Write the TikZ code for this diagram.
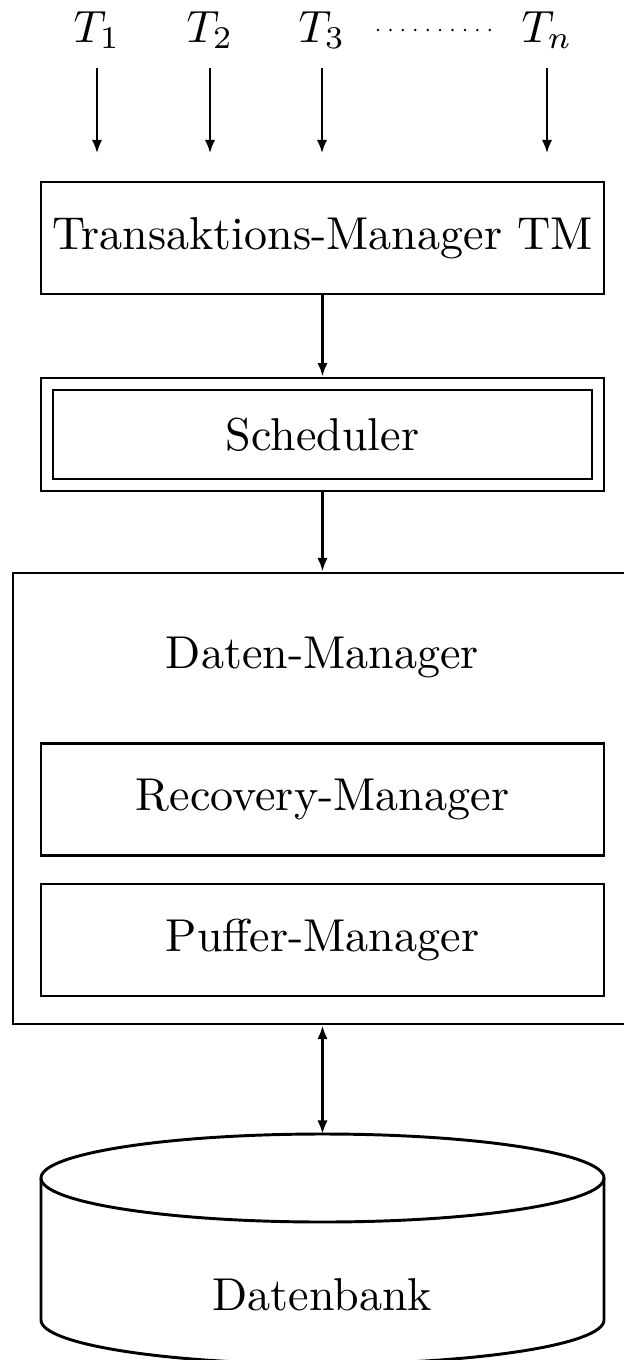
\documentclass[tikz,border=0pt]{standalone}
\usetikzlibrary{arrows.meta}
\begin{document}
\begin{tikzpicture}[
  x=0.2214pt, y=-0.2214pt,
  line width=0.65pt,
  every node/.style={font=\fontsize{10.2}{12}\selectfont},
  arr/.style={-{Latex[length=3pt,width=2.3pt]}},
  darr/.style={{Latex[length=3pt,width=2.3pt]}-{Latex[length=3pt,width=2.3pt]}},
  box/.style={draw, minimum width=563*0.2214pt, minimum height=112*0.2214pt, inner sep=0pt},
  tlabel/.style={anchor=base, inner sep=0pt},
  dotline/.style={line width=0.6pt, line cap=round, dash pattern=on 0pt off 2.75pt},
]
\clip (0,0) rectangle (624,1360);

% transactions
\node[tlabel] (t1) at (97,42) {$T_1$};
\node[tlabel] (t2) at (210,42) {$T_2$};
\node[tlabel] (t3) at (322,42) {$T_3$};
\node[tlabel] (tn) at (547,42) {$T_n$};
\coordinate (dl) at (378,30);
\coordinate (dr) at (490,30);
\draw[dotline] (dl) -- (dr);

% transaction manager
\node[box] (tm) at (322.5,238) {Transaktions-Manager TM};
\foreach \t in {t1,t2,t3,tn}
  \draw[arr, shorten <=5.8pt, shorten >=6pt] (\t.base) -- (\t.base |- tm.north);

% scheduler (double frame)
\node[draw, minimum width=563*0.2214pt, minimum height=113*0.2214pt, inner sep=0pt] (sched) at (322.5,434.5) {};
\node[draw, minimum width=539*0.2214pt, minimum height=89*0.2214pt, inner sep=0pt] (schedin) at (322.5,434.5) {Scheduler};
\draw[arr] (tm.south) -- (sched.north);

% data manager
\node[draw, minimum width=627*0.2214pt, minimum height=451*0.2214pt, inner sep=0pt] (dm) at (326.5,798.5) {};
\node (dmlabel) at (322.5,657) {Daten-Manager};
\node[box] (rec) at (322.5,799.5) {Recovery-Manager};
\node[box] (puf) at (322.5,940) {Puffer-Manager};
\draw[arr] (sched.south) -- (sched.south |- dm.north);

% database cylinder
\coordinate (dbtop) at (322.5,1134);
\draw (322.5,1178) ellipse [x radius=281.5, y radius=44];
\draw (41,1178) -- (41,1320) arc[start angle=180, end angle=0, x radius=281.5, y radius=44] -- (604,1178);
\node (db) at (322.5,1295) {Datenbank};
\draw[darr] (dbtop |- dm.south) -- (dbtop);
\end{tikzpicture}
\end{document}
